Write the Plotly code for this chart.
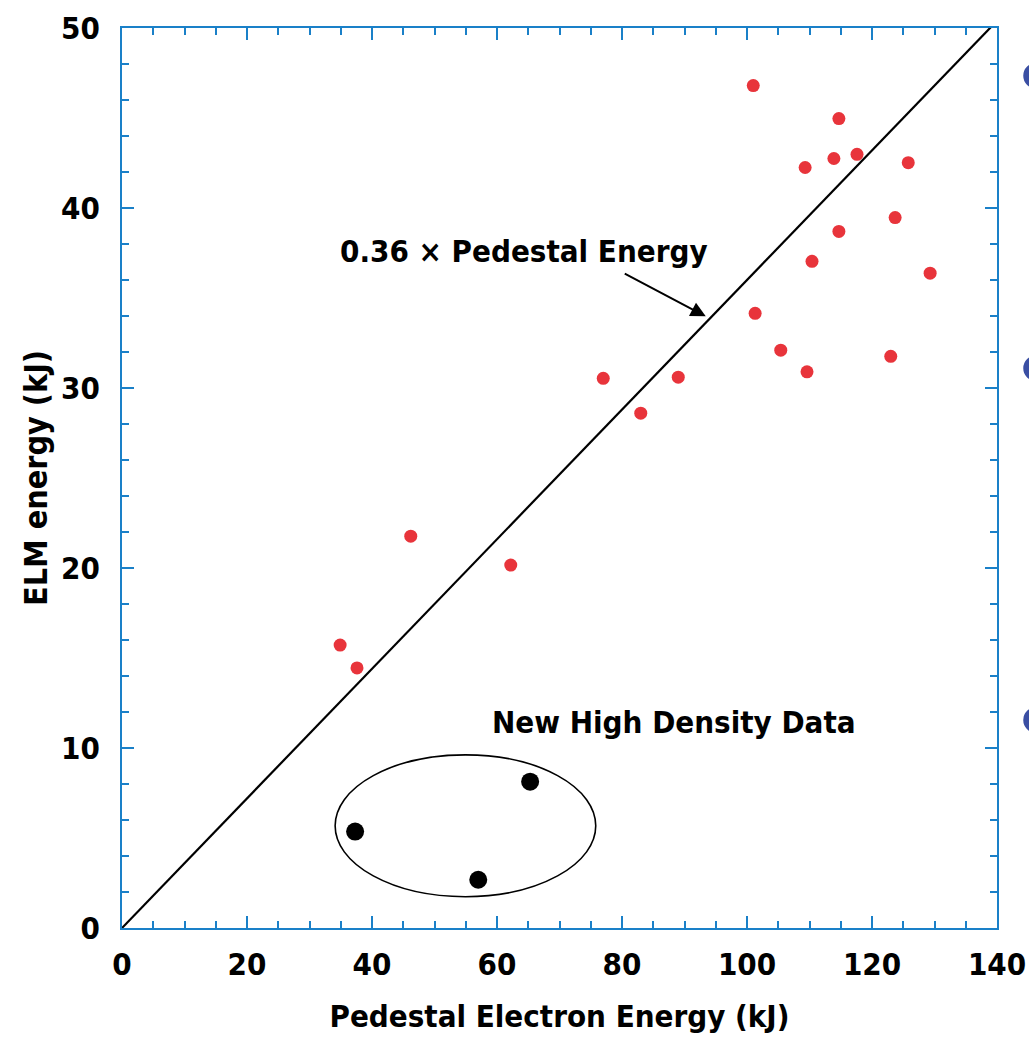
import plotly.graph_objects as go

# Data
red_x = [34.9, 37.6, 46.2, 62.2, 77.0, 83.0, 89.0, 101.0, 101.3, 105.4, 109.3,
         109.6, 110.4, 113.9, 114.7, 114.7, 117.6, 123.0, 123.7, 125.8, 129.3]
red_y = [15.72, 14.45, 21.77, 20.16, 30.54, 28.6, 30.6, 46.8, 34.15, 32.1, 42.25,
         30.9, 37.04, 42.75, 44.97, 38.7, 42.98, 31.76, 39.47, 42.52, 36.38]
hd_x = [37.3, 57.0, 65.3]
hd_y = [5.36, 2.68, 8.13]
fit_x = [0, 140]
fit_y = [0, 50.4]
x_ticks = [0, 20, 40, 60, 80, 100, 120, 140]
y_ticks = [0, 10, 20, 30, 40, 50]

FONT = "DejaVu Sans Condensed, Liberation Sans Narrow, Liberation Sans"
BLUE = "#1a80c8"

fig = go.Figure()
fig.add_trace(go.Scatter(x=fit_x, y=fit_y, mode="lines",
                         line=dict(color="black", width=2.2), showlegend=False))
fig.add_trace(go.Scatter(x=red_x, y=red_y, mode="markers",
                         marker=dict(color="#e8343b", size=13), showlegend=False))
fig.add_trace(go.Scatter(x=hd_x, y=hd_y, mode="markers",
                         marker=dict(color="black", size=18), showlegend=False))

fig.add_shape(type="circle", xref="x", yref="y", x0=34.1, x1=75.8, y0=1.74, y1=9.62,
              line=dict(color="black", width=1.6))

# decorative bullets cut off at the right edge
for yy in [0.947, 0.622, 0.231]:
    fig.add_shape(type="circle", xref="paper", yref="paper",
                  x0=1.030, x1=1.060, y0=yy - 0.0145, y1=yy + 0.0145,
                  fillcolor="#3b4fa3", line=dict(width=0), layer="above")

fig.add_annotation(x=93.4, y=33.98, ax=80.2, ay=36.4, xref="x", yref="y",
                   axref="x", ayref="y", text="", showarrow=True,
                   arrowhead=2, arrowsize=1.5, arrowwidth=2, arrowcolor="black")
fig.add_annotation(x=64.3, y=37.6, xref="x", yref="y", text="<b>0.36 × Pedestal Energy</b>",
                   showarrow=False, font=dict(family=FONT, size=31, color="black"))
fig.add_annotation(x=88.3, y=11.45, xref="x", yref="y", text="<b>New High Density Data</b>",
                   showarrow=False, font=dict(family=FONT, size=31, color="black"))

axis_common = dict(showline=True, linecolor=BLUE, linewidth=2, mirror="ticks",
                   ticks="inside", tickcolor=BLUE, tickwidth=2, ticklen=12,
                   showgrid=False, zeroline=False, automargin=False,
                   tickfont=dict(family=FONT, size=31, color="black"))

fig.update_layout(
    width=1029, height=1037,
    margin=dict(l=122, r=32, t=28, b=109),
    plot_bgcolor="white", paper_bgcolor="white",
    xaxis=dict(range=[0, 140], tickvals=x_ticks,
               ticktext=["<b>%d</b>" % v for v in x_ticks],
               minor=dict(ticks="inside", dtick=5, tick0=0, ticklen=7,
                          tickcolor=BLUE, tickwidth=2),
               ticklabelstandoff=8,
               title=dict(text="<b>Pedestal Electron Energy (kJ)</b>", standoff=24,
                          font=dict(family=FONT, size=31, color="black")),
               **axis_common),
    yaxis=dict(range=[0, 50], tickvals=y_ticks,
               ticktext=["<b>%d</b>" % v for v in y_ticks],
               minor=dict(ticks="inside", dtick=2, tick0=0, ticklen=7,
                          tickcolor=BLUE, tickwidth=2),
               ticklabelstandoff=14,
               title=dict(text="<b>ELM energy (kJ)</b>", standoff=4,
                          font=dict(family=FONT, size=32, color="black")),
               **axis_common),
)

fig.write_html("out.html")
